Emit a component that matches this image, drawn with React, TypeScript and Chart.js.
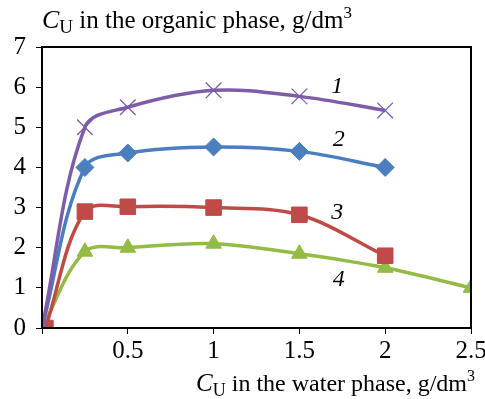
import React, { useEffect, useRef } from "react";
import { Chart, registerables } from "chart.js";

Chart.register(...registerables);

const xTicks = [0, 0.5, 1, 1.5, 2, 2.5];
const series1 = [
  { x: 0, y: 0 }, { x: 0.25, y: 5.0 }, { x: 0.5, y: 5.5 }, { x: 1, y: 5.92 }, { x: 1.5, y: 5.77 }, { x: 2, y: 5.42 },
];
const series2 = [
  { x: 0, y: 0 }, { x: 0.25, y: 4.0 }, { x: 0.5, y: 4.36 }, { x: 1, y: 4.51 }, { x: 1.5, y: 4.4 }, { x: 2, y: 4.0 },
];
const series3 = [
  { x: 0.02, y: 0 }, { x: 0.25, y: 2.9 }, { x: 0.5, y: 3.02 }, { x: 1, y: 3.0 }, { x: 1.5, y: 2.82 }, { x: 2, y: 1.8 },
];
const series4 = [
  { x: 0, y: 0 }, { x: 0.25, y: 1.9 }, { x: 0.5, y: 2.0 }, { x: 1, y: 2.1 }, { x: 1.5, y: 1.85 }, { x: 2, y: 1.5 }, { x: 2.5, y: 1.0 },
];
const curveLabels = [
  { text: "1", x: 1.72, y: 6.0 },
  { text: "2", x: 1.73, y: 4.7 },
  { text: "3", x: 1.72, y: 2.88 },
  { text: "4", x: 1.73, y: 1.2 },
];
const yTitle = "in the organic phase, g/dm";
const xTitle = "in the water phase, g/dm";

const SERIF = "'Liberation Serif', 'DejaVu Serif', serif";

const drawTitle = (ctx: CanvasRenderingContext2D, x: number, y: number, rest: string, align: "left" | "right", size: number) => {
  ctx.save();
  ctx.fillStyle = "#000";
  ctx.textBaseline = "alphabetic";
  ctx.textAlign = "left";
  const fC = `italic ${size + 1}px ${SERIF}`;
  const fU = `${Math.round(size * 0.75)}px ${SERIF}`;
  const fR = `${size}px ${SERIF}`;
  const fS = `${Math.round(size * 0.68)}px ${SERIF}`;
  ctx.font = fC; const wC = ctx.measureText("C").width;
  ctx.font = fU; const wU = ctx.measureText("U").width;
  ctx.font = fR; const wR = ctx.measureText(" " + rest).width;
  ctx.font = fS; const wS = ctx.measureText("3").width;
  const total = wC + wU + wR + wS;
  let cx = align === "left" ? x : x - total;
  ctx.font = fC; ctx.fillText("C", cx, y); cx += wC;
  ctx.font = fU; ctx.fillText("U", cx, y + 5); cx += wU;
  ctx.font = fR; ctx.fillText(" " + rest, cx, y); cx += wR;
  ctx.font = fS; ctx.fillText("3", cx, y - 10);
  ctx.restore();
};

const overlay = {
  id: "overlay",
  afterDraw(chart: any) {
    const { ctx, chartArea, scales } = chart;
    ctx.save();
    ctx.strokeStyle = "#000";
    ctx.lineWidth = 2;
    ctx.strokeRect(chartArea.left, chartArea.top, chartArea.right - chartArea.left, chartArea.bottom - chartArea.top);
    ctx.fillStyle = "#000";
    ctx.font = `italic 24px ${SERIF}`;
    ctx.textAlign = "center";
    ctx.textBaseline = "middle";
    for (const l of curveLabels) {
      ctx.fillText(l.text, scales.x.getPixelForValue(l.x), scales.y.getPixelForValue(l.y));
    }
    ctx.restore();
    drawTitle(ctx, 42, 28, yTitle, "left", 25);
    drawTitle(ctx, 475, 391, xTitle, "right", 24);
  },
};

export default function App() {
  const ref = useRef<HTMLCanvasElement>(null);
  useEffect(() => {
    if (!ref.current) return;
    const mk = (data: any[], color: string, style: string, radius: number, firstVisible: boolean, extra: any = {}) => ({
      data,
      borderColor: color,
      backgroundColor: color,
      borderWidth: 3.5,
      pointStyle: style,
      pointRadius: data.map((_, i) => (i === 0 && !firstVisible ? 0 : radius)),
      pointBorderColor: color,
      pointBackgroundColor: color,
      pointBorderWidth: 1,
      tension: 0.35,
      clip: 0,
      ...extra,
    });
    const chart = new Chart(ref.current, {
      type: "line",
      data: {
        datasets: [
          mk(series1, "#7D5CA8", "crossRot", 11, false, { pointBorderWidth: 1.3 }),
          mk(series2, "#4A7EBF", "rectRot", 9, false),
          mk(series3, "#BE4B48", "rect", 11, true),
          mk(series4, "#93BB45", "triangle", 9, false),
        ] as any,
      },
      options: {
        animation: false,
        responsive: false,
        layout: { padding: { left: 0, right: 14, top: 47, bottom: 0 } },
        plugins: { legend: { display: false }, tooltip: { enabled: false } },
        scales: {
          x: {
            type: "linear",
            min: 0,
            max: 2.5,
            afterBuildTicks: (s: any) => { s.ticks = xTicks.map((v) => ({ value: v })); },
            afterFit: (s: any) => { s.height = 71; s.paddingRight = 0; s.paddingLeft = 0; },
            grid: { drawOnChartArea: false, drawTicks: true, tickLength: 6, tickColor: "#000", tickWidth: 1 },
            border: { display: true, color: "#000", width: 2 },
            ticks: {
              color: "#000",
              font: { family: SERIF, size: 25 },
              padding: 2,
              maxRotation: 0,
              callback: (v: any) => (v === 0 ? "" : String(v)),
            },
          },
          y: {
            min: 0,
            max: 7,
            afterFit: (s: any) => { s.width = 42; s.paddingTop = 0; s.paddingBottom = 0; },
            grid: { drawOnChartArea: false, drawTicks: true, tickLength: 6, tickColor: "#000", tickWidth: 1 },
            border: { display: true, color: "#000", width: 2 },
            ticks: { color: "#000", font: { family: SERIF, size: 25 }, stepSize: 1, padding: 10 },
          },
        },
      },
      plugins: [overlay],
    });
    return () => chart.destroy();
  }, []);
  return (
    <div style={{ position: "fixed", left: 0, top: 0, width: 485, height: 399, background: "#fff" }}>
      <canvas ref={ref} width={485} height={399} style={{ width: 485, height: 399 }} />
    </div>
  );
}
